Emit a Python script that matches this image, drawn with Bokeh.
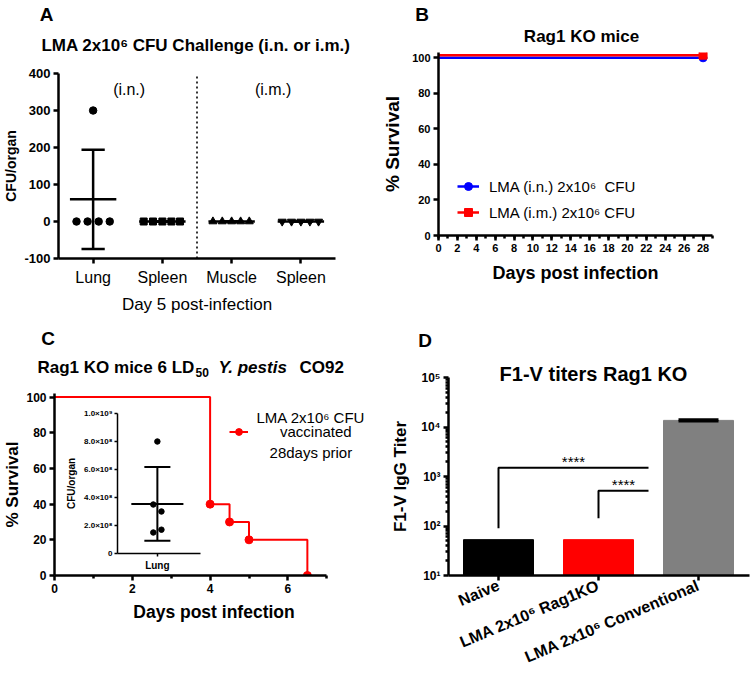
from bokeh.plotting import figure
from bokeh.models import FixedTicker, Legend, LegendItem, GridBox, Column
from bokeh.core.properties import value
from bokeh.embed import file_html
from bokeh.resources import INLINE
import numpy as np

FONT = "Liberation Sans"

# ---------------- Panel A data ----------------
a_groups = ["Lung", "Spleen", "Muscle", "Spleen"]
a_lung = [300, 0, 0, 0, 0]
a_spleen_in = [0, 0, 0, 0, 0]
a_muscle = [0, 0, 0, 0, 0]
a_spleen_im = [0, 0, 0, 0, 0]
a_lung_jitter = [0.0, -0.24, -0.08, 0.08, 0.24]
a_jitter = [-0.27, -0.135, 0.0, 0.13, 0.255]
a_yticks = [-100, 0, 100, 200, 300, 400]

# ---------------- Panel B data ----------------
b_days = [0, 28]
b_in = [100, 100]
b_im = [101.5, 101.5]
b_xticks = list(range(0, 29, 2))
b_yticks = [0, 20, 40, 60, 80, 100]
b_labels = ["LMA (i.n.) 2x10\u2076  CFU", "LMA (i.m.) 2x10\u2076 CFU"]

# ---------------- Panel C data ----------------
c_days = [0, 4, 4.5, 5, 6.5]
c_surv = [100, 40, 30, 20, 0]
c_xticks = [0, 2, 4, 6]
c_yticks = [0, 20, 40, 60, 80, 100]
c_legend = ["LMA 2x10\u2076 CFU", "vaccinated", "28days prior"]
inset_lung = [8.0e8, 3.5e8, 3.0e8, 1.5e8, 1.7e8]
inset_jitter = [0.0, -0.05, 0.05, -0.05, 0.05]
inset_yticks = [0, 2e8, 4e8, 6e8, 8e8, 1e9]
inset_ylabels = ["0", "2.0\u00d710\u2078", "4.0\u00d710\u2078", "6.0\u00d710\u2078",
                 "8.0\u00d710\u2078", "1.0\u00d710\u2079"]

# ---------------- Panel D data ----------------
d_groups = ["Naive", "LMA 2x10\u2076 Rag1KO", "LMA 2x10\u2076 Conventional"]
d_titer = [53, 53, 13600]
d_sd = [0, 0, 600]
d_colors = ["#000000", "#FF0000", "#808080"]
d_yticks = [10, 100, 1000, 10000, 100000]
d_ylabels = ["10\u00b9", "10\u00b2", "10\u00b3", "10\u2074", "10\u2075"]
d_br1_x = [0, 0, 1.5]
d_br1_y = [90, 1500, 1500]
d_br2_x = [1, 1, 1.5]
d_br2_y = [143, 517, 517]
d_sig = "****"

# ---------------- Panel letters and titles (page pixel positions) ----------------
letters = ["A", "B", "C", "D"]
letter_x = [46, 421.5, 47.5, 424.5]
letter_y = [13.5, 13.5, 337.5, 339.5]
titles = ["LMA 2x10\u2076 CFU Challenge (i.n. or i.m.)", "Rag1 KO mice", "F1-V titers Rag1 KO"]
title_x = [195.5, 581, 593]
title_y = [45, 36, 373]
title_size = ["17px", "17px", "20px"]
c_title_parts = ["Rag1 KO mice 6 LD", "50", "Y. pestis", "CO92"]
c_title_x = [37, 195, 218, 299]
c_title_dy = [0, 5, 0, 0]
c_title_size = ["17px", "12px", "17px", "17px"]
c_title_style = ["bold", "bold", "bold italic", "bold"]
c_title_y = 367


def make_fig(w, h, xr, yr, bl, br, bt, bb, y_type="linear"):
    p = figure(width=w, height=h, x_range=xr, y_range=yr, y_axis_type=y_type,
               output_backend="svg", toolbar_location=None, tools="",
               min_border_left=bl, min_border_right=br,
               min_border_top=bt, min_border_bottom=bb)
    p.grid.visible = False
    p.outline_line_color = None
    p.background_fill_color = None
    p.border_fill_color = None
    return p


def style_axis(ax, label_size, tick_size, label_style="bold", tick_style="bold",
               lw=2.5, tick_out=5, minor_out=3, standoff=3, label_standoff=5):
    ax.axis_line_width = lw
    ax.axis_line_color = "black"
    ax.major_tick_line_width = lw
    ax.minor_tick_line_width = lw
    ax.major_tick_line_color = "black"
    ax.minor_tick_line_color = "black"
    ax.major_tick_in = 0
    ax.major_tick_out = tick_out
    ax.minor_tick_in = 0
    ax.minor_tick_out = minor_out
    ax.major_label_standoff = standoff
    ax.axis_label_standoff = label_standoff
    ax.major_label_text_font = FONT
    ax.major_label_text_font_size = tick_size
    ax.major_label_text_font_style = tick_style
    ax.major_label_text_color = "black"
    ax.axis_label_text_font = FONT
    ax.axis_label_text_font_size = label_size
    ax.axis_label_text_font_style = label_style
    ax.axis_label_text_color = "black"


# ======================= Panel A =======================
pA = make_fig(375, 320, (-0.5, 3.5), (-100, 400), 57, 40, 73, 62)
style_axis(pA.yaxis[0], "14px", "13px", label_standoff=2)
style_axis(pA.xaxis[0], "17px", "16px", label_style="normal", tick_style="normal",
           standoff=5, label_standoff=6)
pA.yaxis.ticker = FixedTicker(ticks=a_yticks, minor_ticks=[])
pA.yaxis.major_label_overrides = {t: str(t) for t in a_yticks}
pA.yaxis.axis_label = "CFU/organ"
pA.xaxis.ticker = FixedTicker(ticks=list(range(len(a_groups))), minor_ticks=[])
pA.xaxis.major_label_overrides = {i: g for i, g in enumerate(a_groups)}
pA.xaxis.axis_label = "Day 5 post-infection"

# dotted separator between the i.n. and i.m. groups
pA.segment(x0=[1.5], x1=[1.5], y0=[-100], y1=[400], line_color="black",
           line_width=1.6, line_dash="2 3")

a_sets = [(a_lung, a_lung_jitter, "circle", 7.5),
          (a_spleen_in, a_jitter, "square", 7),
          (a_muscle, a_jitter, "triangle", 8),
          (a_spleen_im, a_jitter, "inverted_triangle", 8)]
for i, (vals, jit, mk, sz) in enumerate(a_sets):
    xs = [i + j for j in jit]
    m = float(np.mean(vals))
    s = float(np.std(vals, ddof=1))
    pA.segment(x0=[i - 0.335], x1=[i + 0.335], y0=[m], y1=[m], line_color="black", line_width=2.5)
    pA.segment(x0=[i], x1=[i], y0=[m - s], y1=[m + s], line_color="black", line_width=2.5)
    pA.segment(x0=[i - 0.168, i - 0.168], x1=[i + 0.168, i + 0.168], y0=[m - s, m + s],
               y1=[m - s, m + s], line_color="black", line_width=2.5)
    pA.scatter(x=xs, y=vals, marker=mk, size=sz, fill_color="black", line_color="black")

pA.text(x=[0.52, 2.6], y=[357, 357], text=["(i.n.)", "(i.m.)"], text_font=value(FONT),
        text_font_size="16px", text_align="center", text_baseline="middle", text_color="black")

# ======================= Panel B =======================
pB = make_fig(375, 330, (0, 29), (0, 103), 63, 38, 52, 95)
style_axis(pB.yaxis[0], "19px", "11px", label_standoff=6)
style_axis(pB.xaxis[0], "18px", "11px", label_standoff=8)
pB.xaxis.ticker = FixedTicker(ticks=b_xticks, minor_ticks=list(range(0, 30)))
pB.yaxis.ticker = FixedTicker(ticks=b_yticks, minor_ticks=[])
pB.xaxis.axis_label = "Days post infection"
pB.yaxis.axis_label = "% Survival"

lb1 = pB.line(b_days, b_in, line_color="#0000FF", line_width=2.5)
mb1 = pB.scatter(b_days[-1:], b_in[-1:], marker="circle", size=8, fill_color="#0000FF", line_color="#0000FF")
lb2 = pB.line(b_days, b_im, line_color="#FF0000", line_width=2.5)
mb2 = pB.scatter(b_days[-1:], b_im[-1:], marker="square", size=8, fill_color="#FF0000", line_color="#FF0000")
legB = Legend(items=[LegendItem(label=b_labels[0], renderers=[lb1, mb1]),
                     LegendItem(label=b_labels[1], renderers=[lb2, mb2])],
              location=(19, 13), padding=0, margin=0, spacing=6,
              glyph_width=22, glyph_height=20, label_height=20, label_standoff=10,
              label_text_font=FONT, label_text_font_size="15px", label_text_color="black",
              background_fill_alpha=0, border_line_color=None)
pB.add_layout(legB)

# ======================= Panel C =======================
pC = make_fig(375, 356, (0, 8.2), (0, 102), 52, 2, 73, 101)
style_axis(pC.yaxis[0], "17px", "12px", label_standoff=1)
style_axis(pC.xaxis[0], "17.5px", "12px", label_standoff=6)
pC.xaxis.ticker = FixedTicker(ticks=c_xticks, minor_ticks=[1, 3, 5, 7])
pC.xaxis.bounds = (0, 7)
pC.yaxis.ticker = FixedTicker(ticks=c_yticks, minor_ticks=[])
pC.xaxis.axis_label = "Days post infection"
pC.yaxis.axis_label = "% Survival"

lc = pC.step(c_days, c_surv, mode="after", line_color="#FF0000", line_width=2)
mc = pC.scatter(c_days[1:], c_surv[1:], marker="circle", size=8, fill_color="#FF0000", line_color="#FF0000")
legC = Legend(items=[LegendItem(label=c_legend[1], renderers=[lc, mc])],
              location=(175, 135), padding=0, margin=0,
              glyph_width=19, glyph_height=17, label_height=17, label_standoff=32,
              label_text_font=FONT, label_text_font_size="15px", label_text_color="black",
              background_fill_alpha=0, border_line_color=None)
pC.add_layout(legC)
pC.text(x=[6.59, 6.59], y=[88.7, 69.1], text=[c_legend[0], c_legend[2]], text_font=value(FONT),
        text_font_size="15px", text_align="center", text_baseline="middle", text_color="black")

# ---- inset ----
pIn = make_fig(150, 180, (-0.49, 0.53), (0, 1e9), 57, 10, 13, 27)
style_axis(pIn.yaxis[0], "10px", "8px", lw=1.5, tick_out=3, standoff=2, label_standoff=4)
style_axis(pIn.xaxis[0], "10px", "10px", lw=1.5, tick_out=3, standoff=3)
pIn.yaxis.ticker = FixedTicker(ticks=inset_yticks, minor_ticks=[])
pIn.yaxis.major_label_overrides = {t: l for t, l in zip(inset_yticks, inset_ylabels)}
pIn.xaxis.ticker = FixedTicker(ticks=[0], minor_ticks=[])
pIn.xaxis.major_label_overrides = {0: "Lung"}
pIn.yaxis.axis_label = "CFU/organ"
im = float(np.mean(inset_lung))
isd = float(np.std(inset_lung, ddof=1))
pIn.segment(x0=[-0.32], x1=[0.32], y0=[im], y1=[im], line_color="black", line_width=2)
pIn.segment(x0=[0], x1=[0], y0=[im - isd], y1=[im + isd], line_color="black", line_width=2)
pIn.segment(x0=[-0.16, -0.16], x1=[0.16, 0.16], y0=[im - isd, im + isd], y1=[im - isd, im + isd],
            line_color="black", line_width=2)
pIn.scatter(x=inset_jitter, y=inset_lung, marker="circle", size=5.5, fill_color="black", line_color="black")

# ======================= Panel D =======================
pD = make_fig(375, 356, (-0.5, 2.51), (10, 100000), 73, 1, 57, 99, "log")
style_axis(pD.yaxis[0], "17px", "12px", label_standoff=8)
style_axis(pD.xaxis[0], "17px", "16px", standoff=4)
pD.yaxis.ticker = FixedTicker(ticks=d_yticks,
                              minor_ticks=[k * 10 ** n for n in range(1, 5) for k in range(2, 10)])
pD.yaxis.major_label_overrides = {t: l for t, l in zip(d_yticks, d_ylabels)}
pD.yaxis.axis_label = "F1-V IgG Titer"
pD.xaxis.ticker = FixedTicker(ticks=[0, 1, 2], minor_ticks=[])
pD.xaxis.major_label_overrides = {i: g for i, g in enumerate(d_groups)}
pD.xaxis.major_label_orientation = 0.4

pD.vbar(x=[0, 1, 2], top=d_titer, bottom=10, width=0.7, fill_color=d_colors, line_color=d_colors)
for i, (m, s) in enumerate(zip(d_titer, d_sd)):
    if s > 0:
        pD.segment(x0=[i - 0.2, i - 0.2], x1=[i + 0.2, i + 0.2], y0=[m - s, m + s], y1=[m - s, m + s],
                   line_color="black", line_width=2.5)
for bx, by in [(d_br1_x, d_br1_y), (d_br2_x, d_br2_y)]:
    pD.line(bx, by, line_color="black", line_width=2)
    pD.text(x=[(bx[0] + bx[-1]) / 2], y=[by[-1]], text=[d_sig], text_font=value(FONT),
            text_font_size="15px", text_align="center", text_baseline="bottom",
            y_offset=2, text_color="black")

# ======================= Overlay for titles / panel letters =======================
pO = figure(width=750, height=676, x_range=(0, 750), y_range=(676, 0),
            output_backend="svg", toolbar_location=None, tools="",
            x_axis_location=None, y_axis_location=None,
            min_border_left=0, min_border_right=0, min_border_top=0, min_border_bottom=0)
pO.grid.visible = False
pO.outline_line_color = None
pO.background_fill_color = None
pO.border_fill_color = None
pO.text(x=letter_x, y=letter_y, text=letters, text_font=value(FONT), text_font_size="19px",
        text_font_style="bold", text_align="center", text_baseline="middle", text_color="black")
for t, x, y, sz in zip(titles, title_x, title_y, title_size):
    pO.text(x=[x], y=[y], text=[t], text_font=value(FONT), text_font_size=sz,
            text_font_style="bold", text_align="center", text_baseline="middle", text_color="black")
for t, x, dy, sz, st in zip(c_title_parts, c_title_x, c_title_dy, c_title_size, c_title_style):
    pO.text(x=[x], y=[c_title_y + dy], text=[t], text_font=value(FONT), text_font_size=sz,
            text_font_style=st, text_align="left", text_baseline="middle", text_color="black")


# ======================= Layout =======================
def place(p, top, left):
    return Column(children=[p], margin=(top, 0, 0, left))

layout = GridBox(children=[(place(pA, 0, 0), 0, 0), (place(pB, 0, 375), 0, 0),
                           (place(pC, 320, 0), 0, 0), (place(pD, 320, 375), 0, 0),
                           (place(pIn, 400, 60), 0, 0), (place(pO, 0, 0), 0, 0)])

open("out.html", "w").write(file_html(layout, INLINE))
